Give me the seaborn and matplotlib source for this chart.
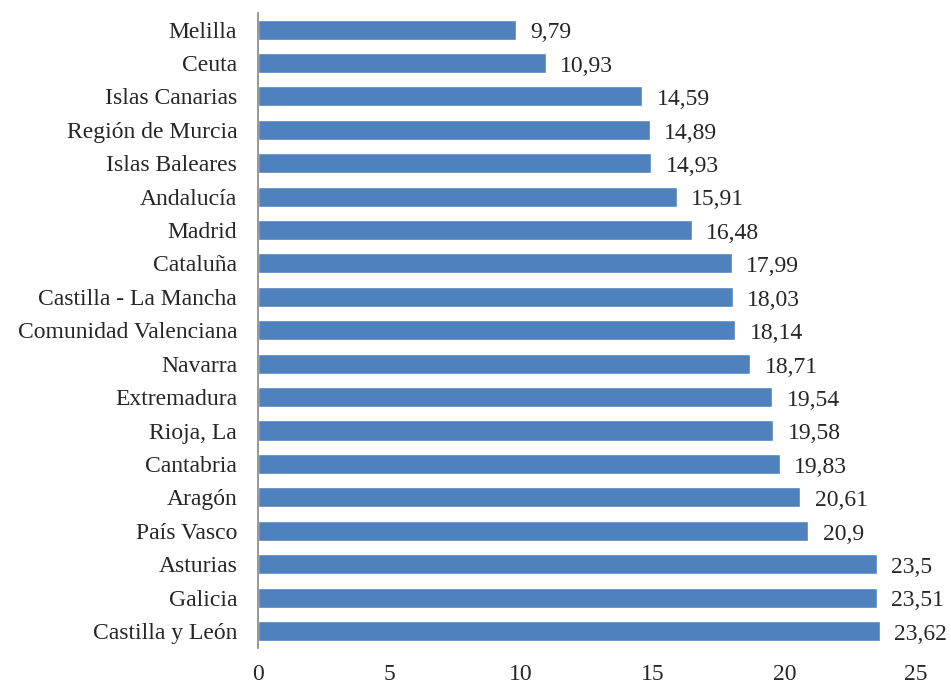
import matplotlib
matplotlib.use('Agg')
import matplotlib.pyplot as plt
import seaborn as sns
import pandas as pd

regions = ['Melilla', 'Ceuta', 'Islas Canarias', 'Región de Murcia', 'Islas Baleares',
           'Andalucía', 'Madrid', 'Cataluña', 'Castilla - La Mancha', 'Comunidad Valenciana',
           'Navarra', 'Extremadura', 'Rioja, La', 'Cantabria', 'Aragón', 'País Vasco',
           'Asturias', 'Galicia', 'Castilla y León']
values = [9.79, 10.93, 14.59, 14.89, 14.93, 15.91, 16.48, 17.99, 18.03, 18.14,
          18.71, 19.54, 19.58, 19.83, 20.61, 20.9, 23.5, 23.51, 23.62]
xticks = [0, 5, 10, 15, 20, 25]

df = pd.DataFrame({'region': regions, 'value': values})

sns.set_style('white')
plt.rcParams['font.family'] = ['Liberation Serif', 'DejaVu Serif']
fs = 17

fig = plt.figure(figsize=(9.51, 6.86), dpi=100)
ax = fig.add_axes([0.2713, 0.0558, 0.6919, 0.9255])

sns.barplot(data=df, x='value', y='region', orient='h', color='#4F81BD',
            saturation=1, width=0.6, ax=ax)

# etiquetas con coma decimal
for i, v in enumerate(values):
    lbl = ('%g' % v).replace('.', ',')
    ax.text(v + 0.55, i + 0.1, lbl, va='center', ha='left', fontsize=fs)

ax.set_xlim(0, 25)
ax.set_ylim(18.5, -0.5)
ax.set_xticks(xticks)
ax.set_xticklabels([str(t) for t in xticks], fontsize=fs)
ax.tick_params(axis='y', labelsize=fs, length=0, pad=15)
ax.tick_params(axis='x', length=0, pad=12)
ax.set_xlabel('')
ax.set_ylabel('')
for s in ['top', 'right', 'bottom']:
    ax.spines[s].set_visible(False)
ax.spines['left'].set_color('#868686')
ax.spines['left'].set_linewidth(1.2)

fig.savefig('out.png', dpi=100)
